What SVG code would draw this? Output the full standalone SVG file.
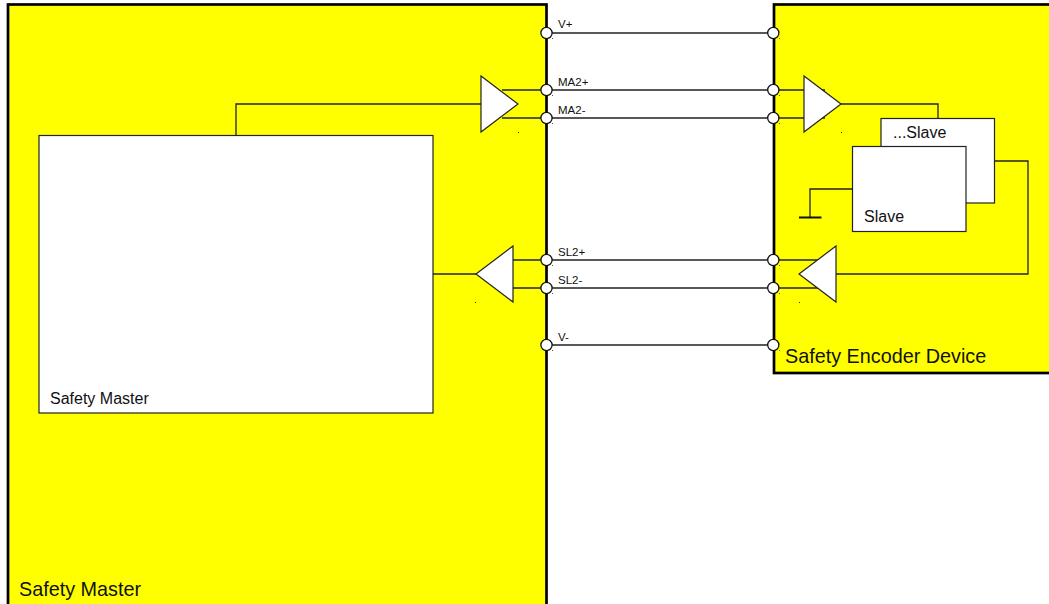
<svg xmlns="http://www.w3.org/2000/svg" width="1049" height="604" viewBox="0 0 1049 604">
<style>
text{font-family:"Liberation Sans",Arial,sans-serif;fill:#111}
.big{font-size:19.800px}.mid{font-size:16px}.sm{font-size:11.500px}
.panel{fill:#ff0;stroke:#000;stroke-width:2.700}
.box{fill:#fff;stroke:#222;stroke-width:1.2}
.tri{fill:#fff;stroke:#222;stroke-width:1.2}
.wire{fill:none;stroke:#222;stroke-width:1.3}
.port{fill:#fff;stroke:#111;stroke-width:1.3}
.dot{fill:#333}
.speck{fill:#555}
</style>
<defs><rect id="speck" class="speck" width="1" height="1"/></defs>
<g id="panel-master"><rect class="panel" x="8" y="4.500" width="538.500" height="620"/><text class="big" x="19" y="596">Safety Master</text></g>
<g id="panel-encoder"><rect class="panel" x="774" y="4.500" width="300" height="368.500"/><text class="big" x="785" y="363">Safety Encoder Device</text></g>
<g id="connectors">
<path class="wire" d="M547 33H773M502 90H773M502 118H773M500 260H773M500 288H773M547 345H773"/>
<path class="wire" d="M773 90H825M773 118H825M773 260H820M773 288H820"/>
<path class="wire" d="M236 135V104H481M433 274H476"/>
<path class="wire" d="M841 104H938V118.500M995 161H1028V274H836M852.500 189H810V217"/>
<path d="M799 217.500H821.500" fill="none" stroke="#111" stroke-width="2"/>
</g>
<g id="safety-master"><rect class="box" x="39" y="135.500" width="394" height="277.500"/><text class="mid" x="50" y="404">Safety Master</text></g>
<g id="slave-back"><rect class="box" x="881" y="118.500" width="113.500" height="84.500"/><text class="mid" x="893" y="138">...Slave</text></g>
<g id="slave-front"><rect class="box" x="852.500" y="146.500" width="113.500" height="85"/><text class="mid" x="864" y="222">Slave</text></g>
<g id="driver-master"><polygon class="tri" points="481,76 481,132 518,104"/><rect class="dot" x="518" y="132" width="1" height="1"/></g>
<g id="driver-encoder"><polygon class="tri" points="804,76 804,132 841,104"/><rect class="dot" x="841" y="132" width="1" height="1"/></g>
<g id="receiver-master"><polygon class="tri" points="513,246 513,302 476,274"/><rect class="dot" x="475" y="302" width="1" height="1"/></g>
<g id="receiver-encoder"><polygon class="tri" points="836,246 836,302 799,274"/><rect class="dot" x="799" y="302" width="1" height="1"/></g>
<g id="port-v-plus"><circle class="port" cx="546.500" cy="33" r="5.600"/><circle class="port" cx="773.300" cy="33" r="5.600"/><use href="#speck" x="552" y="38"/><use href="#speck" x="779" y="38"/><text class="sm" x="558" y="28">V+</text></g>
<g id="port-ma2-plus"><circle class="port" cx="546.500" cy="90" r="5.600"/><circle class="port" cx="773.300" cy="90" r="5.600"/><use href="#speck" x="552" y="95"/><use href="#speck" x="779" y="95"/><text class="sm" x="558" y="86">MA2+</text></g>
<g id="port-ma2-minus"><circle class="port" cx="546.500" cy="118" r="5.600"/><circle class="port" cx="773.300" cy="118" r="5.600"/><use href="#speck" x="552" y="123"/><use href="#speck" x="779" y="123"/><text class="sm" x="558" y="114">MA2-</text></g>
<g id="port-sl2-plus"><circle class="port" cx="546.500" cy="260" r="5.600"/><circle class="port" cx="773.300" cy="260" r="5.600"/><use href="#speck" x="552" y="265"/><use href="#speck" x="779" y="265"/><text class="sm" x="558" y="256">SL2+</text></g>
<g id="port-sl2-minus"><circle class="port" cx="546.500" cy="288" r="5.600"/><circle class="port" cx="773.300" cy="288" r="5.600"/><use href="#speck" x="552" y="293"/><use href="#speck" x="779" y="293"/><text class="sm" x="558" y="284">SL2-</text></g>
<g id="port-v-minus"><circle class="port" cx="546.500" cy="345" r="5.600"/><circle class="port" cx="773.300" cy="345" r="5.600"/><use href="#speck" x="552" y="350"/><use href="#speck" x="779" y="350"/><text class="sm" x="558" y="341">V-</text></g>
</svg>
